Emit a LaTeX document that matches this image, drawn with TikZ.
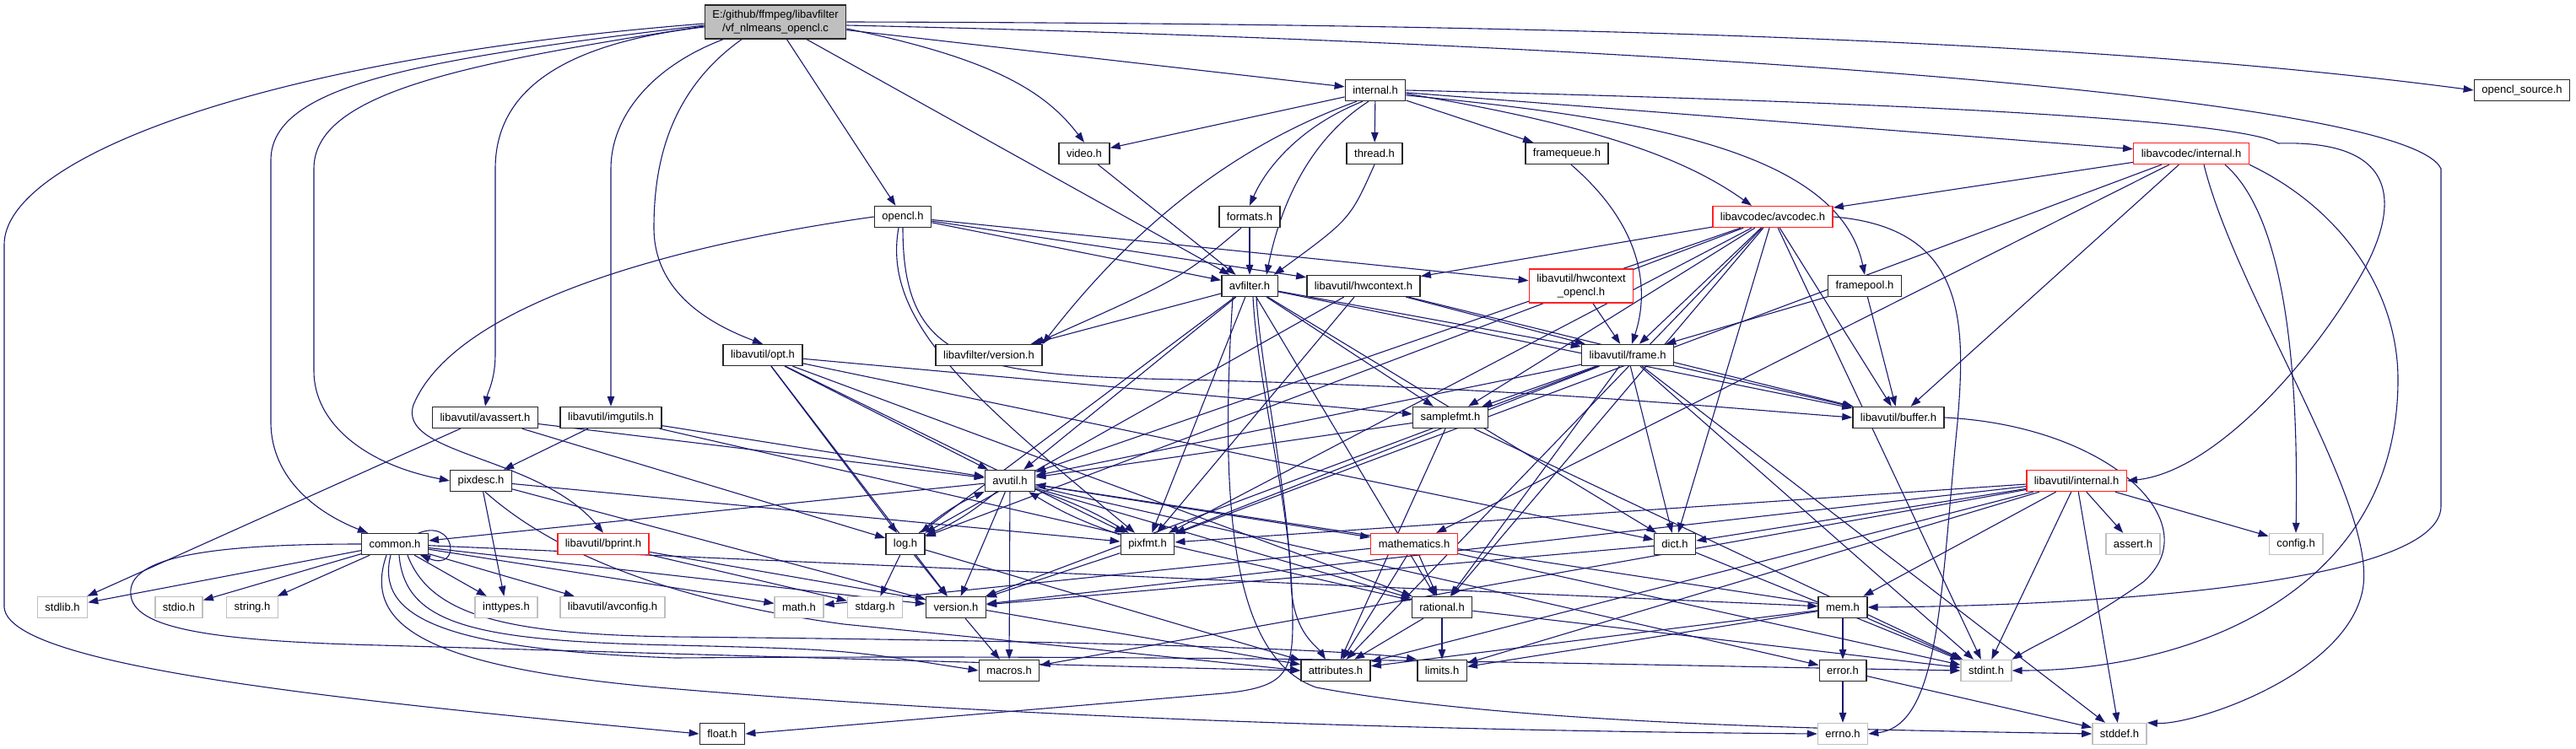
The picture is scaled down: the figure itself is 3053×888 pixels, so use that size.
\documentclass[tikz,border=0pt]{standalone}
\usepackage{fontspec}
\setmainfont{Liberation Sans}
\usetikzlibrary{arrows.meta}
\definecolor{edgec}{HTML}{191970}
\definecolor{graybd}{HTML}{BFBFBF}
\definecolor{redbd}{HTML}{FF2020}
\pgfdeclarelayer{bg}\pgfsetlayers{bg,main}
\begin{document}
\begin{tikzpicture}[x=1pt,y=-1pt,
  box/.style={draw=black!85, line width=1.4pt, fill=white, inner xsep=9pt, inner ysep=2pt,
    minimum height=25pt, font=\fontsize{13}{15.5}\selectfont},
  gbox/.style={box, draw=graybd},
  rbox/.style={box, draw=redbd},
  e/.style={draw=edgec, line width=1.1pt, -{Triangle[length=12pt,width=8.5pt]}}]
\begin{pgfonlayer}{bg}
\fill[white] (0,0) rectangle (3053,888);
\end{pgfonlayer}
\useasboundingbox (0,0) rectangle (3053,888);
% nodes
\node[box, fill=graybd, align=center, minimum height=40pt] (root) at (919,26) {E:/github/ffmpeg/libavfilter\\/vf\_nlmeans\_opencl.c};
\node[box] (video) at (1285,182) {video.h};
\node[box] (opencl) at (1070,257) {opencl.h};
\node[box] (formats) at (1481,257) {formats.h};
\node[box] (avfilter) at (1481,339) {avfilter.h};
\node[box] (opt) at (904,421) {libavutil/opt.h};
\node[box] (lfver) at (1172,421) {libavfilter/version.h};
\node[box] (internal) at (1630,107) {internal.h};
\node[box] (thread) at (1629,182) {thread.h};
\node[box] (framequeue) at (1857,182) {framequeue.h};
\node[rbox] (avcodec) at (2101,257) {libavcodec/avcodec.h};
\node[box] (hwctx) at (1616,339) {libavutil/hwcontext.h};
\node[rbox, align=center, minimum height=40pt] (hwcl) at (1874,339) {libavutil/hwcontext\\\_opencl.h};
\node[box] (framepool) at (2210,339) {framepool.h};
\node[box] (frame) at (1929,421) {libavutil/frame.h};
\node[box] (oclsrc) at (2989,107) {opencl\_source.h};
\node[rbox] (lcint) at (2597,182) {libavcodec/internal.h};
\node[box] (avassert) at (575,495) {libavutil/avassert.h};
\node[box] (imgutils) at (724,495) {libavutil/imgutils.h};
\node[box] (samplefmt) at (1719,495) {samplefmt.h};
\node[box] (buffer) at (2250,495) {libavutil/buffer.h};
\node[box] (pixdesc) at (570,570) {pixdesc.h};
\node[box] (avutil) at (1197,570) {avutil.h};
\node[rbox] (luint) at (2461,570) {libavutil/internal.h};
\node[box] (common) at (468,645) {common.h};
\node[rbox] (bprint) at (715,645) {libavutil/bprint.h};
\node[box] (log) at (1073,645) {log.h};
\node[box] (pixfmt) at (1360,645) {pixfmt.h};
\node[rbox] (mathematics) at (1676,645) {mathematics.h};
\node[box] (dict) at (1985,645) {dict.h};
\node[gbox] (assert) at (2528,645) {assert.h};
\node[gbox] (config) at (2721,645) {config.h};
\node[gbox] (stdlib) at (74,720) {stdlib.h};
\node[gbox] (stdio) at (212,720) {stdio.h};
\node[gbox] (string) at (299,720) {string.h};
\node[gbox] (inttypes) at (600,720) {inttypes.h};
\node[gbox] (avconfig) at (726,720) {libavutil/avconfig.h};
\node[gbox] (math) at (947,720) {math.h};
\node[gbox] (stdarg) at (1037,720) {stdarg.h};
\node[box] (version) at (1133,720) {version.h};
\node[box] (rational) at (1709,720) {rational.h};
\node[box] (mem) at (2184,720) {mem.h};
\node[box] (macros) at (1196,795) {macros.h};
\node[box] (attributes) at (1583,795) {attributes.h};
\node[box] (limits) at (1709,795) {limits.h};
\node[box] (error) at (2184,795) {error.h};
\node[gbox] (stdint) at (2354,795) {stdint.h};
\node[box] (float) at (856,870) {float.h};
\node[gbox] (errno) at (2184,870) {errno.h};
\node[gbox] (stddef) at (2512,870) {stddef.h};
% edges
\begin{pgfonlayer}{bg}
\foreach \a/\b in {video/avfilter, formats/avfilter, opencl/avfilter, opencl/hwctx, opencl/hwcl,
  internal/video, internal/thread, internal/framequeue, internal/lcint, root/internal, root/opencl, root/avfilter,
  framepool/frame, framepool/buffer, hwcl/frame, hwctx/frame, hwctx/buffer, hwctx/log, hwctx/pixfmt,
  avfilter/lfver, avfilter/avutil, avfilter/log, avfilter/pixfmt, avfilter/samplefmt, avfilter/frame,
  avfilter/buffer, avfilter/dict, avfilter/rational,
  avcodec/hwctx, avcodec/frame, avcodec/samplefmt, avcodec/avutil, avcodec/log, avcodec/pixfmt,
  avcodec/rational, avcodec/dict, avcodec/buffer, avcodec/attributes, avcodec/stdint,
  lcint/avcodec, lcint/buffer, lcint/pixfmt, lcint/mathematics,
  luint/pixfmt, luint/dict, luint/version, luint/mem, luint/limits, luint/stdint, luint/stddef,
  luint/assert, luint/config, luint/attributes, luint/macros,
  avutil/common, avutil/error, avutil/rational, avutil/version, avutil/macros, avutil/mathematics,
  pixfmt/version, version/macros, rational/stdint, rational/limits, rational/attributes,
  mathematics/stdint, mathematics/math, mathematics/attributes, mathematics/rational,
  mem/limits, mem/stdint, mem/attributes, mem/error, mem/avutil, error/errno, error/stddef,
  dict/stdint, dict/version, samplefmt/stdint, samplefmt/avutil, samplefmt/attributes,
  frame/stddef, frame/stdint, frame/avutil, frame/buffer, frame/dict, frame/rational,
  frame/samplefmt, frame/pixfmt, frame/version,
  opt/rational, opt/avutil, opt/dict, opt/log, opt/pixfmt, opt/samplefmt, opt/version,
  imgutils/avutil, imgutils/pixdesc, imgutils/rational, pixdesc/inttypes, pixdesc/pixfmt, pixdesc/version,
  avassert/stdlib, avassert/avutil, avassert/log, bprint/stdarg, bprint/attributes,
  common/stdlib, common/stdio, common/string, common/inttypes, common/avconfig, common/math,
  common/version, common/mem, log/stdarg, log/version, log/attributes}
  {\draw[e] (\a) -- (\b);}
\draw[e] (avutil) to[bend left=8] (log);
\draw[e] (log) to[bend left=8] (avutil);
\draw[e] (avutil) to[bend left=6] (pixfmt);
\draw[e] (pixfmt) to[bend left=6] (avutil);
% root
\draw[e] (root.east) .. controls (1900,28) and (2500,50) .. (oclsrc.west);
\draw[e] ([yshift=-4pt]root.east) .. controls (1900,50) and (2850,110) .. (2893,200) -- (2893,600) .. controls (2893,690) and (2500,718) .. (mem.east);
\draw[e] ([yshift=-8pt]root.east) .. controls (1180,70) and (1240,110) .. (video.north);
\draw[e] ([xshift=-40pt]root.south) .. controls (790,110) and (775,200) .. (775,270) .. controls (775,340) and (830,380) .. (opt.north);
\draw[e] ([xshift=-62pt]root.south) .. controls (770,80) and (724,140) .. (724,200) -- (imgutils.north);
\draw[e] ([yshift=-4pt]root.west) .. controls (500,70) and (321,100) .. (321,190) -- (321,500) .. controls (321,570) and (380,610) .. ([xshift=8pt]common.north west);
\draw[e] ([yshift=-5pt]root.west) .. controls (550,75) and (372,110) .. (372,200) -- (372,440) .. controls (372,500) and (430,550) .. (pixdesc.west);
\draw[e] ([yshift=-6pt]root.west) .. controls (680,50) and (587,100) .. (587,200) -- (587,420) .. controls (587,450) and (578,465) .. (avassert.north);
\draw[e] ([yshift=-2pt]root.west) .. controls (300,70) and (5,190) .. (5,290) -- (5,720) .. controls (10,790) and (400,830) .. (float.west);
% internal
\draw[e] ([xshift=-22pt]internal.south) .. controls (1470,170) and (1350,260) .. (lfver.north east);
\draw[e] ([xshift=-15pt]internal.south) .. controls (1540,150) and (1500,200) .. (formats.north);
\draw[e] ([xshift=-8pt]internal.south) .. controls (1560,160) and (1520,230) .. ([xshift=20pt]avfilter.north);
\draw[e] ([yshift=-4pt]internal.east) .. controls (1900,150) and (2000,190) .. ([xshift=-25pt]avcodec.north);
\draw[e] ([yshift=-6pt]internal.east) .. controls (1950,140) and (2180,180) .. (framepool.north);
\draw[e] (internal.east) .. controls (2200,120) and (2650,140) .. (2700,170) .. controls (2860,165) and (2840,260) .. (2790,340) .. controls (2730,440) and (2620,560) .. (luint.east);
% others
\draw[e] (thread.south) .. controls (1600,260) .. ([xshift=-5pt]avfilter.north east);
\draw[e] ([xshift=-10pt]formats.south) .. controls (1400,330) .. ([xshift=-10pt]lfver.north east);
\draw[e] (opencl.west) .. controls (800,290) and (540,360) .. (490,480) .. controls (470,540) and (640,540) .. (bprint.north);
\draw[e] ([xshift=-5pt]opencl.south) .. controls (1045,380) and (1150,470) .. ([xshift=-15pt]pixfmt.north);
\draw[e] (opencl.south) .. controls (1070,430) and (1150,445) .. (1400,450) .. controls (1800,460) and (2000,480) .. (buffer.west);
\draw[e] ([xshift=5pt]framequeue.south) .. controls (1960,280) and (1950,360) .. ([xshift=5pt]frame.north);
\draw[e] (avcodec.east) .. controls (2330,270) and (2330,380) .. (2320,500) .. controls (2300,700) and (2300,860) .. (errno.east);
\draw[e] ([xshift=40pt]lcint.south) .. controls (2700,250) and (2725,400) .. (config.north);
\draw[e] (lcint.south east) .. controls (2780,250) and (2842,350) .. (2842,450) .. controls (2842,700) and (2600,795) .. (stdint.east);
\draw[e] ([xshift=15pt]lcint.south) .. controls (2650,350) and (2820,600) .. (2800,700) .. controls (2780,800) and (2600,860) .. (stddef.north east);
\draw[e] ([xshift=-20pt]avfilter.south) .. controls (1445,600) and (1460,780) .. (1560,815) .. controls (1800,860) and (2200,865) .. (stddef.west);
\draw[e] ([xshift=8pt]avfilter.south) .. controls (1495,450) and (1532,600) .. (1532,740) .. controls (1532,800) and (1520,815) .. (1450,822) -- (float.east);
\draw[e] ([xshift=4pt]avfilter.south) .. controls (1490,450) and (1528,600) .. (1530,690) .. controls (1532,750) and (1560,765) .. ([xshift=-12pt]attributes.north);
\draw[e] (buffer.east) .. controls (2500,505) and (2620,620) .. (2540,690) .. controls (2470,740) and (2420,760) .. (stdint.north east);
\draw[e] ([xshift=-10pt]common.south) .. controls (430,740) and (500,790) .. (780,815) .. controls (1300,860) and (1900,868) .. (errno.west);
\draw[e] ([xshift=-5pt]common.south) .. controls (445,730) and (520,770) .. (800,780) .. controls (1500,775) and (2000,790) .. (stdint.west);
\draw[e] ([xshift=5pt]common.south) .. controls (480,740) and (560,760) .. (800,765) .. controls (1000,770) .. (macros.west);
\draw[e] (common.west) .. controls (250,645) and (150,660) .. (155,705) .. controls (158,745) and (250,760) .. (450,765) .. controls (900,778) and (1300,790) .. (attributes.west);
\draw[e] ([xshift=15pt]common.south) .. controls (510,730) and (600,752) .. (800,755) .. controls (1300,760) and (1600,770) .. (limits.north west);
\draw[e] ([xshift=5pt]pixdesc.south) .. controls (650,650) and (780,710) .. (1000,740) .. controls (1300,770) .. (attributes.west);
\draw[e] (494,633) .. controls (540,612) and (548,678) .. (498,658);
\end{pgfonlayer}
\end{tikzpicture}
\end{document}
